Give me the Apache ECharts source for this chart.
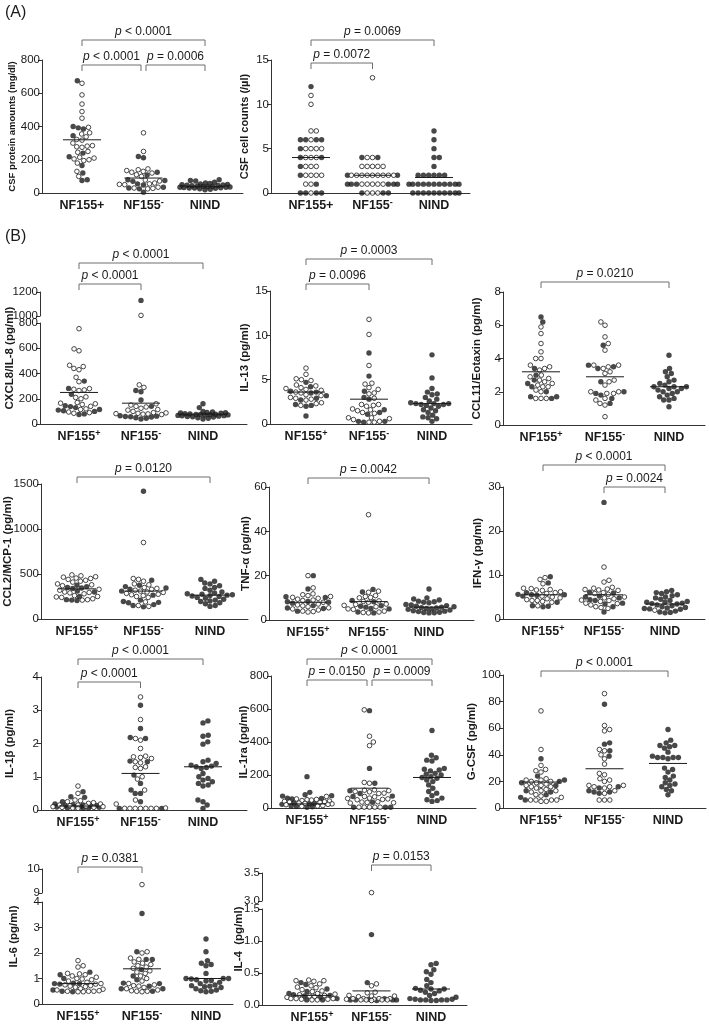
<!DOCTYPE html>
<html><head><meta charset="utf-8">
<script src="https://cdn.jsdelivr.net/npm/echarts@6/dist/echarts.min.js"></script>
<style>html,body{margin:0;padding:0;background:#fff}#c{width:709px;height:1026px}</style>
</head><body><div id="c"></div>
<script>
// ---------------- categories ----------------
const catsA = ['NF155+', 'NF155⁻', 'NIND'];
const catsB = ['NF155⁺', 'NF155⁻', 'NIND'];

// ---------------- (A) CSF protein ----------------
const protein_ticks = [0, 800, 200];
const protein_pos_open = [660, 590, 535, 490, 450, 395, 362, 355, 338, 322, 318, 300, 285, 282, 278, 275, 250, 245, 215, 210, 205, 200, 195, 180, 130, 100];
const protein_pos_fill = [675, 400, 392, 385, 345, 240, 218, 165, 120, 80, 75];
const protein_neg_open = [362, 250, 145, 140, 135, 130, 125, 120, 110, 100, 78, 72, 60, 55, 52, 50, 35, 30, 28, 25];
const protein_neg_fill = [220, 212, 125, 108, 80, 75, 70, 55, 48, 35, 30, 25, 5];
const protein_nind_fill = [80, 75, 72, 65, 60, 58, 55, 52, 50, 48, 47, 45, 44, 42, 40, 40, 38, 36, 35, 34, 33, 32, 30, 30, 28, 25, 22, 20];
const protein_median = [320, 90, 40];
const protein_brackets = [[0, 2, 'p < 0.0001'], [0, 1, 'p < 0.0001'], [1, 2, 'p = 0.0006']];

// ---------------- (A) CSF cell counts ----------------
const cells_ticks = [0, 15, 5];
const cells_pos_open = [11, 10, 7, 7, 6, 5, 5, 5, 5, 4, 4, 4, 3, 3, 3, 2, 2, 2, 2, 1, 1, 0];
const cells_pos_fill = [12, 6, 6, 6, 6, 5, 4, 4, 3, 2, 1, 0, 0, 0, 0];
const cells_neg_open = [13, 4, 4, 3, 3, 3, 3, 3, 2, 2, 2, 2, 2, 2, 2, 2, 2, 1, 1, 1, 1, 1, 0, 0, 0];
const cells_neg_fill = [4, 4, 2, 2, 1, 1, 1, 1, 1, 1, 0, 0, 0];
const cells_nind_fill = [7, 6, 5, 4, 4, 3, 2, 2, 2, 2, 2, 2, 1, 1, 1, 1, 1, 1, 1, 1, 1, 1, 1, 0, 0, 0, 0, 0, 0, 0, 0, 0, 0];
const cells_median = [4, 2, 1.75];
const cells_brackets = [[0, 2, 'p = 0.0069'], [0, 1, 'p = 0.0072']];

// ---------------- (B) CXCL8/IL-8 (broken axis) ----------------
const cxcl8_ticks = [0, 800, 200];
const cxcl8_ticks_upper = [1000, 1200, 200];
const cxcl8_pos_open = [755, 595, 580, 465, 455, 440, 430, 370, 335, 280, 275, 270, 265, 215, 210, 200, 170, 165, 160, 155, 140, 120, 115, 95, 90, 85];
const cxcl8_pos_fill = [340, 282, 235, 145, 138, 130, 115, 110, 105, 100, 80, 75];
const cxcl8_neg_open = [1005, 310, 290, 160, 150, 140, 135, 125, 115, 110, 100, 90, 88, 85, 82, 80, 78, 75];
const cxcl8_neg_fill = [1130, 265, 255, 190, 140, 65, 62, 60, 58, 55, 50, 45, 40];
const cxcl8_nind_fill = [160, 130, 100, 95, 92, 90, 88, 85, 82, 80, 78, 76, 75, 74, 72, 70, 68, 66, 65, 62, 60, 58, 55, 50, 45, 40];
const cxcl8_median = [250, 165, 78];
const cxcl8_brackets = [[0, 2, 'p < 0.0001'], [0, 1, 'p < 0.0001']];

// ---------------- IL-13 ----------------
const il13_ticks = [0, 15, 5];
const il13_pos_open = [6.3, 5.6, 5.1, 5.0, 4.9, 4.4, 4.3, 4.1, 4.0, 3.9, 3.8, 3.6, 3.5, 3.3, 3.2, 3.0, 2.9, 2.8, 2.7, 2.4, 2.3, 2.1];
const il13_pos_fill = [4.7, 4.2, 3.7, 3.6, 3.5, 3.2, 2.9, 2.7, 2.2, 2.1, 2.0, 0.9];
const il13_neg_open = [11.8, 10.1, 6.6, 4.6, 4.5, 4.1, 3.9, 3.5, 3.4, 2.9, 2.2, 2.2, 2.1, 2.0, 1.7, 1.6, 1.5, 1.3, 1.2, 0.7, 0.7, 0.6, 0.5, 0.3, 0.2, 0.2];
const il13_neg_fill = [8.0, 5.4, 3.7, 3.0, 2.8, 1.6, 1.3, 1.1, 0.3, 0.3, 0.2];
const il13_nind_fill = [7.8, 5.2, 4.0, 3.6, 3.4, 3.3, 3.0, 2.8, 2.6, 2.4, 2.3, 2.3, 2.3, 2.2, 2.2, 2.1, 2.0, 1.8, 1.6, 1.5, 1.3, 1.0, 0.8, 0.7, 0.6, 0.3];
const il13_median = [3.6, 2.8, 2.3];
const il13_brackets = [[0, 2, 'p = 0.0003'], [0, 1, 'p = 0.0096']];

// ---------------- CCL11/Eotaxin ----------------
const ccl11_ticks = [0, 8, 2];
const ccl11_pos_open = [5.9, 5.5, 4.9, 4.4, 4.0, 4.0, 3.6, 3.5, 3.4, 3.3, 3.0, 2.9, 2.8, 2.7, 2.6, 2.5, 2.4, 2.3, 2.3, 2.1, 2.0, 1.6, 1.6, 1.6];
const ccl11_pos_fill = [6.5, 6.2, 3.4, 3.0, 2.7, 2.5, 2.3, 2.0, 1.7, 1.7, 1.6];
const ccl11_neg_open = [6.2, 6.0, 5.3, 4.9, 4.5, 3.6, 3.6, 3.5, 3.4, 3.2, 3.1, 2.7, 2.6, 2.4, 2.0, 2.0, 1.9, 1.9, 1.6, 1.5, 1.3, 1.2, 0.5];
const ccl11_neg_fill = [4.8, 3.6, 3.5, 3.4, 2.6, 2.0, 1.9, 1.8, 1.6, 1.3];
const ccl11_nind_fill = [4.2, 3.4, 3.2, 3.1, 2.9, 2.7, 2.6, 2.5, 2.4, 2.3, 2.3, 2.3, 2.2, 2.2, 2.1, 2.0, 2.0, 1.9, 1.8, 1.7, 1.6, 1.5, 1.5, 1.1];
const ccl11_median = [3.2, 2.9, 2.3];
const ccl11_brackets = [[0, 2, 'p = 0.0210']];

// ---------------- CCL2/MCP-1 ----------------
const ccl2_ticks = [0, 1500, 500];
const ccl2_pos_open = [490, 480, 470, 465, 455, 450, 440, 430, 420, 410, 390, 380, 370, 330, 320, 300, 295, 290, 280, 260, 250, 245, 240, 225, 215, 210];
const ccl2_pos_fill = [375, 360, 350, 345, 340, 310, 300, 250, 215, 210, 205];
const ccl2_neg_open = [850, 450, 440, 420, 390, 380, 350, 340, 330, 320, 310, 300, 295, 285, 275, 270, 260, 250, 240, 190, 150, 140];
const ccl2_neg_fill = [1420, 430, 375, 360, 345, 330, 310, 265, 210, 195, 185, 180, 160, 150, 135];
const ccl2_nind_fill = [440, 420, 400, 390, 370, 350, 340, 320, 300, 290, 280, 275, 270, 265, 260, 255, 250, 240, 230, 220, 210, 200, 195, 180, 170, 150, 140];
const ccl2_median = [335, 310, 265];
const ccl2_brackets = [[0, 2, 'p = 0.0120']];

// ---------------- TNF-α ----------------
const tnf_ticks = [0, 60, 20];
const tnf_pos_open = [20, 14.5, 11.8, 11.4, 11.0, 10.6, 10.2, 9.8, 9.4, 9.0, 8.8, 8.0, 7.2, 6.8, 6.4, 6.0, 5.5, 5.0, 4.5, 4.0, 3.8, 3.6];
const tnf_pos_fill = [20, 14, 10.5, 10.2, 8.4, 8.2, 8.0, 7.6, 6.5, 5.4, 5.2, 4.0];
const tnf_neg_open = [47.5, 13, 12.5, 11, 10.6, 10.2, 10, 8.6, 8.4, 8.0, 7.2, 7.0, 6.6, 6.0, 5.0, 4.8, 4.0, 3.6, 3.4, 3.2];
const tnf_neg_fill = [13.8, 12.6, 8.8, 8.2, 6.4, 6.2, 5.8, 5.2, 5.0, 3.6, 3.2];
const tnf_nind_fill = [14, 10, 9.5, 9, 8.5, 8.2, 8, 7.8, 7, 6.8, 6.5, 6.2, 6, 5.8, 5.6, 5.4, 5.2, 5, 4.8, 4.5, 4.2, 4, 3.8, 3.5, 3.4, 3.3, 3.2];
const tnf_median = [8, 8.3, 5.8];
const tnf_brackets = [[0, 2, 'p = 0.0042']];

// ---------------- IFN-γ ----------------
const ifn_ticks = [0, 30, 10];
const ifn_pos_open = [9.4, 9.0, 8.0, 7.0, 6.9, 6.7, 6.6, 6.5, 6.2, 6.0, 5.8, 5.2, 5.0, 4.8, 4.6, 4.4, 4.2, 4.2, 4.0, 3.8, 3.0];
const ifn_pos_fill = [9.6, 8.2, 6.0, 5.6, 5.5, 5.5, 5.4, 5.2, 3.8, 3.0, 2.9, 2.8];
const ifn_neg_open = [11.8, 8.8, 8.4, 7.2, 7.0, 6.8, 6.7, 6.6, 6.5, 6.0, 5.8, 5.6, 5.0, 4.8, 4.6, 4.3, 4.2, 4.0, 3.6, 3.5, 3.2, 2.8, 2.6, 2.4];
const ifn_neg_fill = [26.5, 6.1, 5.9, 5.2, 5.0, 4.8, 4.4, 4.2, 3.6, 3.4, 2.8, 1.6];
const ifn_nind_open = [2.0];
const ifn_nind_fill = [6.5, 6.2, 6.0, 5.8, 5.5, 5.3, 5.0, 4.8, 4.5, 4.2, 4.0, 3.8, 3.8, 3.6, 3.5, 3.4, 3.2, 3.0, 2.8, 2.6, 2.5, 2.4, 2.3, 2.2, 1.8, 1.6, 1.5, 1.4];
const ifn_median = [5.5, 5.5, 3.4];
const ifn_brackets = [[0, 2, 'p < 0.0001'], [1, 2, 'p = 0.0024']];

// ---------------- IL-1β ----------------
const il1b_ticks = [0, 4, 1];
const il1b_pos_open = [0.72, 0.5, 0.3, 0.28, 0.25, 0.22, 0.2, 0.18, 0.15, 0.15, 0.13, 0.12, 0.1, 0.1, 0.08, 0.08, 0.06, 0.05];
const il1b_pos_fill = [0.55, 0.4, 0.38, 0.25, 0.18, 0.16, 0.15, 0.14, 0.13, 0.12, 0.1, 0.1, 0.09, 0.08, 0.07, 0.06, 0.05];
const il1b_neg_open = [3.4, 2.72, 2.15, 2.1, 1.85, 1.62, 1.6, 1.58, 1.55, 1.45, 1.42, 1.3, 1.28, 1.25, 1.0, 0.93, 0.6, 0.3, 0.18, 0.06, 0.05, 0.05, 0.05, 0.05, 0.05, 0.05, 0.05];
const il1b_neg_fill = [3.15, 2.45, 2.18, 2.15, 1.47, 1.45, 1.05, 0.8, 0.6, 0.5, 0.5, 0.25, 0.05, 0.05];
const il1b_nind_fill = [2.68, 2.62, 2.25, 2.22, 2.05, 1.98, 1.5, 1.45, 1.4, 1.35, 1.32, 1.3, 1.28, 1.25, 1.1, 1.0, 0.95, 0.9, 0.85, 0.8, 0.75, 0.72, 0.3, 0.25, 0.15, 0.05];
const il1b_median = [0.12, 1.1, 1.3];
const il1b_brackets = [[0, 2, 'p < 0.0001'], [0, 1, 'p < 0.0001']];

// ---------------- IL-1ra ----------------
const il1ra_ticks = [0, 800, 200];
const il1ra_pos_open = [70, 55, 52, 50, 48, 45, 42, 40, 38, 36, 34, 30, 28, 25, 22, 20, 15, 12, 10];
const il1ra_pos_fill = [190, 95, 80, 75, 72, 60, 58, 55, 30, 28, 25, 22, 12, 10, 8, 5];
const il1ra_neg_open = [595, 435, 400, 378, 155, 150, 110, 108, 105, 100, 98, 90, 88, 70, 68, 60, 58, 55, 52, 50, 38, 36, 34, 32, 30, 5, 5, 5, 5, 5];
const il1ra_neg_fill = [590, 240, 150, 105, 88, 72, 70, 35, 5, 5, 5];
const il1ra_nind_fill = [470, 320, 305, 290, 285, 240, 235, 230, 225, 210, 205, 200, 190, 185, 180, 170, 160, 140, 120, 100, 90, 75, 60, 50, 45, 40];
const il1ra_median = [25, 120, 185];
const il1ra_brackets = [[0, 2, 'p < 0.0001'], [0, 1, 'p = 0.0150'], [1, 2, 'p = 0.0009']];

// ---------------- G-CSF ----------------
const gcsf_ticks = [0, 100, 20];
const gcsf_pos_open = [73, 44, 32, 29, 28, 27, 22, 21, 21, 20, 20, 19, 18, 17, 17, 16, 16, 15, 14, 13, 13, 12, 10, 9, 8, 6, 6, 6, 6, 5, 5];
const gcsf_pos_fill = [37, 24, 21, 20, 19, 17, 13, 12, 10, 8, 6];
const gcsf_neg_open = [86, 62, 59, 58, 44, 43, 40, 37, 33, 26, 25, 22, 21, 20, 17, 17, 16, 16, 15, 13, 11, 6, 6, 6];
const gcsf_neg_fill = [78, 49, 48, 43, 39, 16, 15, 13, 12, 12, 11];
const gcsf_nind_fill = [59, 51, 49, 47, 47, 46, 45, 42, 39, 38, 38, 38, 38, 37, 30, 29, 27, 24, 23, 21, 19, 18, 17, 16, 14, 13, 10];
const gcsf_median = [19.5, 29.5, 33.5];
const gcsf_brackets = [[0, 2, 'p < 0.0001']];

// ---------------- IL-6 (broken axis) ----------------
const il6_ticks = [0, 4, 1];
const il6_ticks_upper = [9, 10, 1];
const il6_pos_open = [1.7, 1.5, 1.45, 1.2, 1.18, 1.15, 1.1, 1.05, 1.0, 0.98, 0.95, 0.9, 0.85, 0.8, 0.78, 0.75, 0.72, 0.7, 0.68, 0.66, 0.6, 0.58, 0.55, 0.52, 0.5, 0.5, 0.5, 0.48, 0.48];
const il6_pos_fill = [1.25, 1.15, 1.0, 0.82, 0.8, 0.8, 0.78, 0.55, 0.5, 0.48];
const il6_neg_open = [9.35, 2.05, 2.0, 1.8, 1.75, 1.65, 1.6, 1.55, 1.5, 1.45, 1.4, 1.3, 1.25, 1.2, 1.1, 1.0, 0.9, 0.8, 0.75, 0.72, 0.7, 0.65, 0.6, 0.55, 0.52, 0.5, 0.5, 0.48];
const il6_neg_fill = [3.55, 2.05, 1.75, 1.75, 1.35, 1.1, 0.95, 0.82, 0.8, 0.7, 0.6, 0.6, 0.5];
const il6_nind_fill = [2.55, 2.05, 1.7, 1.6, 1.55, 1.5, 1.2, 1.0, 1.0, 1.0, 0.98, 0.95, 0.92, 0.9, 0.85, 0.8, 0.75, 0.72, 0.7, 0.68, 0.65, 0.6, 0.55, 0.52, 0.5, 0.48];
const il6_median = [0.8, 1.38, 1.0];
const il6_brackets = [[0, 1, 'p = 0.0381']];

// ---------------- IL-4 (broken axis) ----------------
const il4_ticks = [0, 1.5, 0.5];
const il4_ticks_upper = [3.0, 3.5, 0.5];
const il4_pos_open = [0.39, 0.38, 0.38, 0.37, 0.33, 0.3, 0.28, 0.27, 0.24, 0.22, 0.21, 0.18, 0.17, 0.16, 0.15, 0.14, 0.13, 0.12, 0.1, 0.1, 0.1, 0.09, 0.09, 0.08, 0.08];
const il4_pos_fill = [0.35, 0.32, 0.25, 0.21, 0.18, 0.16, 0.15, 0.14, 0.12, 0.1, 0.08, 0.08];
const il4_neg_open = [3.15, 0.33, 0.3, 0.2, 0.19, 0.15, 0.14, 0.14, 0.13, 0.1, 0.1, 0.1, 0.1, 0.09, 0.09, 0.08, 0.08, 0.08, 0.08, 0.07];
const il4_neg_fill = [1.1, 0.35, 0.1, 0.09, 0.08, 0.08, 0.08, 0.08, 0.07];
const il4_nind_fill = [0.65, 0.63, 0.55, 0.52, 0.48, 0.4, 0.35, 0.3, 0.26, 0.25, 0.25, 0.23, 0.22, 0.2, 0.18, 0.15, 0.12, 0.1, 0.09, 0.09, 0.08, 0.08, 0.08, 0.08, 0.07, 0.07];
const il4_median = [0.15, 0.22, 0.25];
const il4_brackets = [[1, 2, 'p = 0.0153']];

// ---------------- panels (data links) ----------------
const PANELS = [
  {name: 'CSF protein amounts (mg/dl)', cats: catsA, ticks: protein_ticks, open: [protein_pos_open, protein_neg_open, []], fill: [protein_pos_fill, protein_neg_fill, protein_nind_fill], median: protein_median, brackets: protein_brackets},
  {name: 'CSF cell counts (/µl)', cats: catsA, ticks: cells_ticks, open: [cells_pos_open, cells_neg_open, []], fill: [cells_pos_fill, cells_neg_fill, cells_nind_fill], median: cells_median, brackets: cells_brackets},
  {name: 'CXCL8/IL-8 (pg/ml)', cats: catsB, ticks: cxcl8_ticks, upper: cxcl8_ticks_upper, open: [cxcl8_pos_open, cxcl8_neg_open, []], fill: [cxcl8_pos_fill, cxcl8_neg_fill, cxcl8_nind_fill], median: cxcl8_median, brackets: cxcl8_brackets},
  {name: 'IL-13 (pg/ml)', cats: catsB, ticks: il13_ticks, open: [il13_pos_open, il13_neg_open, []], fill: [il13_pos_fill, il13_neg_fill, il13_nind_fill], median: il13_median, brackets: il13_brackets},
  {name: 'CCL11/Eotaxin (pg/ml)', cats: catsB, ticks: ccl11_ticks, open: [ccl11_pos_open, ccl11_neg_open, []], fill: [ccl11_pos_fill, ccl11_neg_fill, ccl11_nind_fill], median: ccl11_median, brackets: ccl11_brackets},
  {name: 'CCL2/MCP-1 (pg/ml)', cats: catsB, ticks: ccl2_ticks, open: [ccl2_pos_open, ccl2_neg_open, []], fill: [ccl2_pos_fill, ccl2_neg_fill, ccl2_nind_fill], median: ccl2_median, brackets: ccl2_brackets},
  {name: 'TNF-α (pg/ml)', cats: catsB, ticks: tnf_ticks, open: [tnf_pos_open, tnf_neg_open, []], fill: [tnf_pos_fill, tnf_neg_fill, tnf_nind_fill], median: tnf_median, brackets: tnf_brackets},
  {name: 'IFN-γ (pg/ml)', cats: catsB, ticks: ifn_ticks, open: [ifn_pos_open, ifn_neg_open, ifn_nind_open], fill: [ifn_pos_fill, ifn_neg_fill, ifn_nind_fill], median: ifn_median, brackets: ifn_brackets},
  {name: 'IL-1β (pg/ml)', cats: catsB, ticks: il1b_ticks, open: [il1b_pos_open, il1b_neg_open, []], fill: [il1b_pos_fill, il1b_neg_fill, il1b_nind_fill], median: il1b_median, brackets: il1b_brackets},
  {name: 'IL-1ra (pg/ml)', cats: catsB, ticks: il1ra_ticks, open: [il1ra_pos_open, il1ra_neg_open, []], fill: [il1ra_pos_fill, il1ra_neg_fill, il1ra_nind_fill], median: il1ra_median, brackets: il1ra_brackets},
  {name: 'G-CSF (pg/ml)', cats: catsB, ticks: gcsf_ticks, open: [gcsf_pos_open, gcsf_neg_open, []], fill: [gcsf_pos_fill, gcsf_neg_fill, gcsf_nind_fill], median: gcsf_median, brackets: gcsf_brackets},
  {name: 'IL-6 (pg/ml)', cats: catsB, ticks: il6_ticks, upper: il6_ticks_upper, open: [il6_pos_open, il6_neg_open, []], fill: [il6_pos_fill, il6_neg_fill, il6_nind_fill], median: il6_median, brackets: il6_brackets},
  {name: 'IL-4  (pg/ml)', cats: catsB, ticks: il4_ticks, upper: il4_ticks_upper, decimals: 1, open: [il4_pos_open, il4_neg_open, []], fill: [il4_pos_fill, il4_neg_fill, il4_nind_fill], median: il4_median, brackets: il4_brackets}
];

// ---------------- layout (pixels) ----------------
const LAYOUT = [
  {left: 42, right: 243, cat0: 82, step: 61.5, top: 60, bottom: 193, tiers: [-20, 5, 5], nameGap: 25, nameSize: 9.5},
  {left: 271, right: 470, cat0: 311, step: 61.5, top: 60, bottom: 193, tiers: [-20, 3], nameGap: 21, nameSize: 11},
  {left: 40, right: 247, cat0: 79, step: 62, top: 323, bottom: 424, upper: {top: 292, bottom: 316}, tiers: [-29, -8], nameGap: 24, nameSize: 11.5},
  {left: 270, right: 472, cat0: 306, step: 63, top: 291, bottom: 424, tiers: [-32, -7], nameGap: 19, nameSize: 11.5},
  {left: 503, right: 705, cat0: 541, step: 64, top: 292, bottom: 425, tiers: [-10], nameGap: 20, nameSize: 11.5},
  {left: 41, right: 248, cat0: 77, step: 66.5, top: 484, bottom: 619, tiers: [-7], nameGap: 27, nameSize: 11.5},
  {left: 269, right: 474, cat0: 308, step: 60.5, top: 487, bottom: 620, tiers: [-9], nameGap: 17, nameSize: 11.5},
  {left: 503, right: 705, cat0: 543, step: 61, top: 487, bottom: 619, tiers: [-22, 0], nameGap: 19, nameSize: 11.5},
  {left: 41, right: 247, cat0: 78, step: 62.5, top: 677, bottom: 810, tiers: [-18, 5], nameGap: 25, nameSize: 11.5},
  {left: 271, right: 476, cat0: 307, step: 62.5, top: 676, bottom: 808, tiers: [-17, 4, 4], nameGap: 21, nameSize: 11.5},
  {left: 503, right: 706, cat0: 541, step: 63.5, top: 675, bottom: 808, tiers: [-4], nameGap: 25, nameSize: 11.5},
  {left: 42, right: 233, cat0: 78, step: 64, top: 902, bottom: 1004, upper: {top: 869, bottom: 893}, tiers: [-2], nameGap: 22, nameSize: 11.5},
  {left: 262, right: 467, cat0: 312, step: 59.5, top: 909, bottom: 1005, upper: {top: 873, bottom: 901}, tiers: [-8], nameGap: 17, nameSize: 11.5}
];

// ---------------- styling ----------------
const FONT = "'Liberation Sans', Arial, Helvetica, sans-serif";
const INK = '#1a1a1a';
const AXIS = '#333';
const BRK = '#6e6e6e';
const DOT_D = 5.3;     // swarm spacing (px)
const SWARM_W = 25;    // max half-width of swarm (px)
const MED_HALF = 19;   // median bar half-width (px)

function catFmt(s) {
  if (s === undefined) return '';
  const m = s.match(/^(.*?)([⁺⁻])$/);
  if (!m) return '{n|' + s + '}';
  return '{n|' + m[1] + '}{s|' + (m[2] === '⁺' ? '+' : '-') + '}';
}
const catRich = {
  n: {fontSize: 12.5, fontWeight: 'bold', fontFamily: FONT, color: INK, lineHeight: 16},
  s: {fontSize: 9, fontWeight: 'bold', fontFamily: FONT, color: INK, lineHeight: 9, verticalAlign: 'top'}
};

// simple beeswarm: returns x-offsets (px) for given pixel y's
function swarm(pys, D, W) {
  const order = pys.map((_, i) => i).sort((a, b) => pys[b] - pys[a]);
  const xs = new Array(pys.length);
  const placed = [];
  const fallback = [0];
  for (let c = 0.5; c <= W; c += 0.5) fallback.push(c, -c);
  let flip = 1;
  for (const i of order) {
    const y = pys[i];
    const near = placed.filter(p => Math.abs(p.y - y) < D);
    const cands = [0];
    near.forEach(p => {
      const dx = Math.sqrt(D * D - (p.y - y) * (p.y - y));
      cands.push(p.x + dx, p.x - dx);
    });
    cands.sort((a, b) => Math.abs(a) - Math.abs(b) || (a - b) * flip);
    let best = null;
    for (const c of cands) {
      if (Math.abs(c) > W + 1e-6) continue;
      if (near.every(p => (p.x - c) * (p.x - c) + (p.y - y) * (p.y - y) >= D * D - 0.01)) { best = c; break; }
    }
    if (best === null) {
      let score = -1;
      for (const c of fallback) {
        let m = Infinity;
        near.forEach(p => { m = Math.min(m, (p.x - c) * (p.x - c) + (p.y - y) * (p.y - y)); });
        if (m > score + 1e-6) { score = m; best = c; }
      }
    }
    flip = -flip;
    xs[i] = best;
    placed.push({x: best, y: y});
  }
  return xs;
}

const grids = [], xAxes = [], yAxes = [], series = [];

function yAxisBase(gi, t, fmt) {
  return {
    gridIndex: gi, type: 'value', min: t[0], max: t[1], interval: t[2],
    axisLine: {show: true, onZero: false, lineStyle: {color: AXIS, width: 1}},
    axisTick: {show: true, length: 4, inside: false, lineStyle: {color: AXIS, width: 1}},
    axisLabel: {show: true, margin: 2, fontSize: 11.5, fontFamily: FONT, color: INK, formatter: fmt},
    splitLine: {show: false},
    nameMoveOverlap: false
  };
}

PANELS.forEach((P, pi) => {
  const L = LAYOUT[pi];
  const xmin = -(L.cat0 - L.left) / L.step;
  const xmax = (L.right - L.cat0) / L.step;
  const fmtY = P.decimals ? (v => Number(v).toFixed(P.decimals)) : (v => String(v));
  const nameStyle = {fontWeight: 'bold', fontSize: L.nameSize, fontFamily: FONT, color: INK};
  const W = L.right - L.left;

  // main (lower) grid
  const gMain = grids.length;
  grids.push({left: L.left, top: L.top, width: W, height: L.bottom - L.top, containLabel: false, outerBoundsMode: 'none'});
  xAxes.push({
    gridIndex: gMain, type: 'value', min: xmin, max: xmax,
    axisLine: {show: true, onZero: false, lineStyle: {color: AXIS, width: 1}},
    axisTick: {show: false}, splitLine: {show: false},
    axisLabel: {show: true, customValues: [0, 1, 2], margin: 5,
      formatter: v => (Math.abs(v - Math.round(v)) < 1e-6 ? catFmt(P.cats[Math.round(v)]) : ''), rich: catRich}
  });
  const ya = yAxisBase(gMain, P.ticks, fmtY);
  if (!P.upper) Object.assign(ya, {name: P.name, nameLocation: 'middle', nameGap: L.nameGap, nameTextStyle: nameStyle});
  yAxes.push(ya);

  let gTop = gMain;
  if (P.upper) {
    gTop = grids.length;
    grids.push({left: L.left, top: L.upper.top, width: W, height: L.upper.bottom - L.upper.top, containLabel: false, outerBoundsMode: 'none'});
    xAxes.push({gridIndex: gTop, type: 'value', min: xmin, max: xmax, show: false});
    yAxes.push(yAxisBase(gTop, P.upper, fmtY));
    // invisible spanning axis carrying the name
    const gN = grids.length;
    grids.push({left: L.left, top: L.upper.top, width: W, height: L.bottom - L.upper.top, containLabel: false, outerBoundsMode: 'none'});
    xAxes.push({gridIndex: gN, type: 'value', min: 0, max: 1, show: false});
    yAxes.push({gridIndex: gN, type: 'value', min: 0, max: 1,
      axisLine: {show: false, onZero: false}, axisTick: {show: false}, axisLabel: {show: false}, splitLine: {show: false},
      name: P.name, nameLocation: 'middle', nameGap: L.nameGap, nameTextStyle: nameStyle, nameMoveOverlap: false});
  }

  const inUpper = v => !!P.upper && v >= P.upper[0];
  function pxY(v) {
    if (inUpper(v)) return L.upper.bottom - (v - P.upper[0]) / (P.upper[1] - P.upper[0]) * (L.upper.bottom - L.upper.top);
    return L.bottom - (v - P.ticks[0]) / (P.ticks[1] - P.ticks[0]) * (L.bottom - L.top);
  }

  const buckets = {mainOpen: [], mainFill: [], upOpen: [], upFill: []};
  for (let g = 0; g < 3; g++) {
    const pts = P.open[g].map(v => ({v, o: true})).concat(P.fill[g].map(v => ({v, o: false})));
    const offs = swarm(pts.map(p => pxY(p.v)), DOT_D, SWARM_W);
    pts.forEach((p, k) => {
      const item = [g + offs[k] / L.step, p.v];
      const up = inUpper(p.v);
      buckets[(up ? 'up' : 'main') + (p.o ? 'Open' : 'Fill')].push(item);
    });
  }
  const mk = (gi, data, open) => ({
    type: 'scatter', xAxisIndex: gi, yAxisIndex: gi, data, silent: true, clip: false,
    symbol: 'circle', symbolSize: open ? 4.6 : 5.4, z: open ? 4 : 3,
    itemStyle: open ? {color: '#fff', borderColor: INK, borderWidth: 1} : {color: INK, borderWidth: 0},
    animation: false
  });
  series.push(mk(gMain, buckets.mainFill, false), mk(gMain, buckets.mainOpen, true));
  if (P.upper) series.push(mk(gTop, buckets.upFill, false), mk(gTop, buckets.upOpen, true));

  // medians
  series.push({
    type: 'custom', xAxisIndex: gMain, yAxisIndex: gMain, silent: true, z: 5, animation: false,
    data: P.median.map((m, i) => [i, m]),
    renderItem: (params, api) => {
      const p = api.coord([api.value(0), api.value(1)]);
      return {type: 'line', shape: {x1: p[0] - MED_HALF, y1: p[1], x2: p[0] + MED_HALF, y2: p[1]},
        style: {stroke: INK, lineWidth: 1}};
    }
  });

  // significance brackets
  const topVal = P.upper ? P.upper[1] : P.ticks[1];
  series.push({
    type: 'custom', xAxisIndex: gTop, yAxisIndex: gTop, silent: true, z: 6, animation: false,
    data: P.brackets.map(b => [b[0], b[1]]),
    renderItem: (params, api) => {
      const j = params.dataIndex;
      const b = P.brackets[j];
      const tier = L.tiers[j];
      const ly = api.coord([0, topVal])[1] + tier;
      let xa = api.coord([b[0], topVal])[0], xb = api.coord([b[1], topVal])[0];
      P.brackets.forEach((o, k) => {
        if (k === j || L.tiers[k] !== tier) return;
        if (o[0] === b[0] || o[1] === b[0]) xa += 2.5;
        if (o[0] === b[1] || o[1] === b[1]) xb -= 2.5;
      });
      const txt = b[2].replace(/^p/, '{i|p}');
      return {type: 'group', children: [
        {type: 'polyline', shape: {points: [[xa, ly + 6], [xa, ly], [xb, ly], [xb, ly + 6]]},
          style: {stroke: BRK, fill: 'none', lineWidth: 1}},
        {type: 'text', x: (xa + xb) / 2, y: ly - 2,
          style: {text: txt, align: 'center', verticalAlign: 'bottom', fontSize: 12, fontFamily: FONT, fill: INK,
            rich: {i: {fontStyle: 'italic', fontSize: 12, fontFamily: FONT, fill: INK}}}}
      ]};
    }
  });
});

const chart = echarts.init(document.getElementById('c'), null, {renderer: 'canvas'});
chart.setOption({
  animation: false,
  backgroundColor: '#fff',
  textStyle: {fontFamily: FONT},
  grid: grids, xAxis: xAxes, yAxis: yAxes, series: series,
  graphic: [
    {type: 'text', left: 5, top: 5, style: {text: '(A)', fontSize: 16, fontFamily: FONT, fill: INK}},
    {type: 'text', left: 5, top: 229, style: {text: '(B)', fontSize: 16, fontFamily: FONT, fill: INK}}
  ]
});
</script></body></html>
